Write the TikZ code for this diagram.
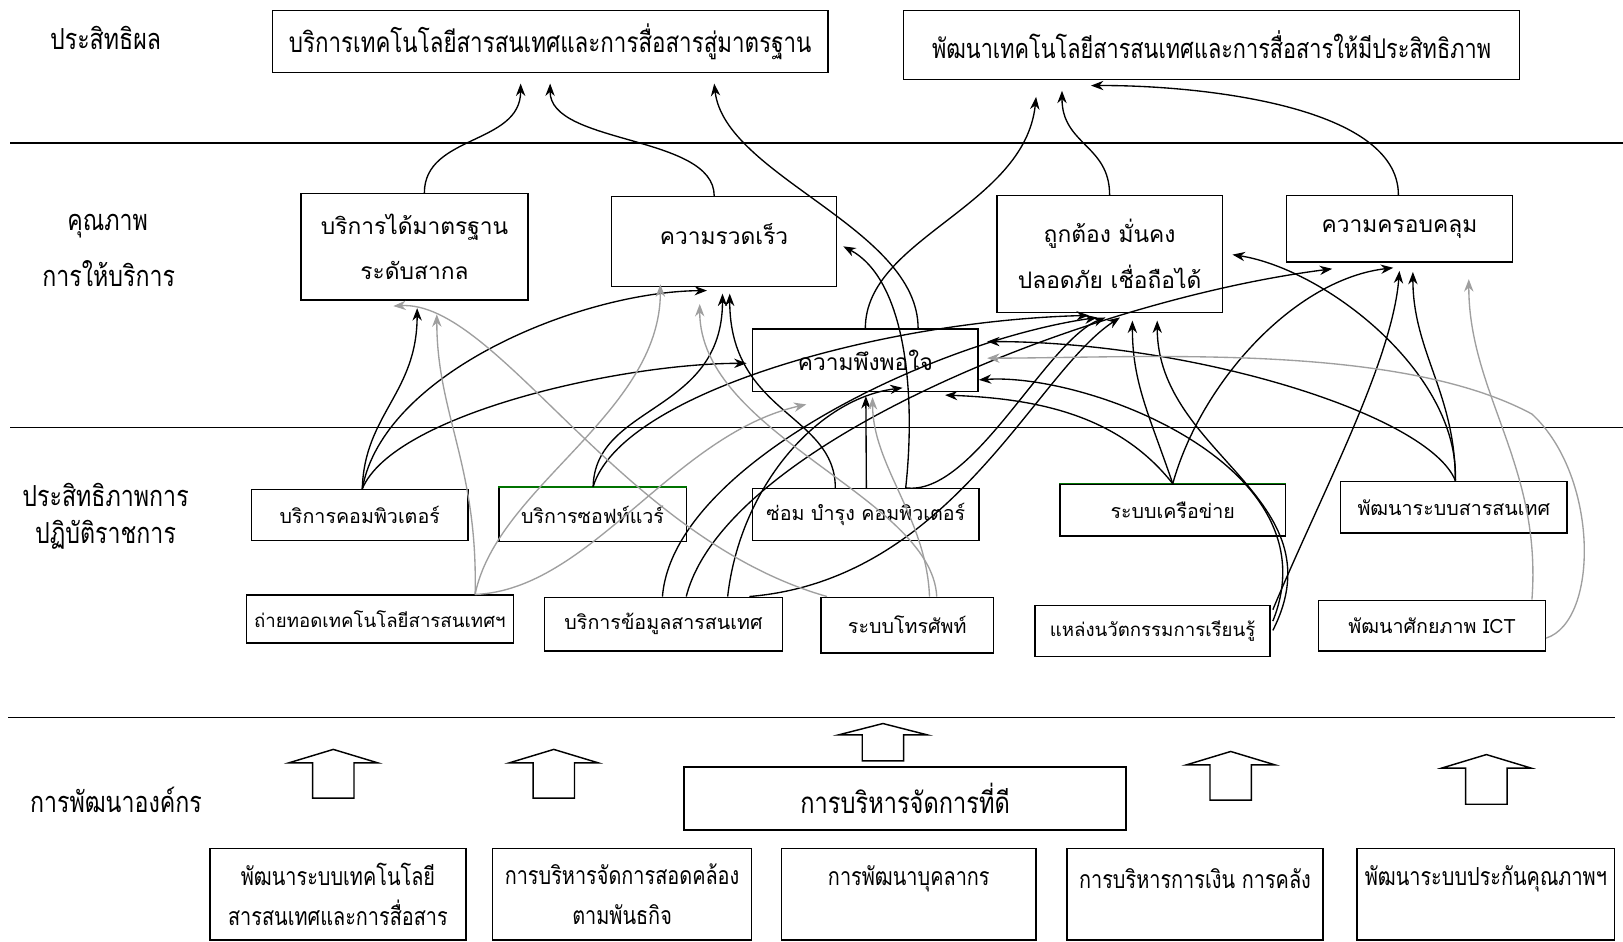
\documentclass[tikz,border=0pt]{standalone}
\usepackage{fontspec}
\newfontfamily\thfont[Script=Thai]{Loma}
\newfontfamily\thcond[Script=Thai,FakeStretch=0.8]{Loma}
\usetikzlibrary{arrows.meta,calc}
\begin{document}
\begin{tikzpicture}[x=1pt,y=-1pt,
  box/.style={draw, line width=1.4pt, inner sep=0pt, align=center},
  lab/.style={inner sep=0pt, align=center, font=\thcond\fontsize{28}{44}\selectfont},
  qtxt/.style={font=\thfont\fontsize{22}{44}\selectfont},
  etxt/.style={font=\thfont\fontsize{19}{24}\selectfont},
  e6txt/.style={font=\thfont\fontsize{18}{24}\selectfont},
  ctxt/.style={font=\thcond\fontsize{28.5}{40}\selectfont},
  ttxt/.style={font=\thcond\fontsize{27}{40}\selectfont},
  t2txt/.style={font=\thcond\fontsize{26.2}{40}\selectfont},
  dtxt/.style={font=\thcond\fontsize{24}{39}\selectfont},
  conn/.style={line width=1.3pt, -{Stealth[length=12pt,width=9pt]}},
  gconn/.style={conn, draw=gray!75, -{Stealth[length=12pt,width=9pt,fill=gray!75]}},
  sep/.style={line width=1.4pt},
  blk/.style={draw, line width=1.4pt, fill=white, line join=miter}
]
\useasboundingbox (0,0) rectangle (1568,910);
\fill[white] (0,0) rectangle (1568,910);

% separators
\draw[sep] (10,138) -- (1568,138);
\draw[sep] (10,413) -- (1568,413);
\draw[sep] (8,693) -- (1560,693);

% left labels
\node[lab] (l1) at (102,37) {ประสิทธิผล};
\node[lab] (l2) at (104,218) {คุณภาพ};
\node[lab] (l3) at (105,264) {การให้บริการ};
\node[lab] (l4) at (102,478) {ประสิทธิภาพการ};
\node[lab] (l5) at (102,517) {ปฏิบัติราชการ};
\node[lab] (l6) at (112,773) {การพัฒนาองค์กร};

% top boxes
\node[box, ttxt, minimum width=537pt, minimum height=60pt] (B1) at (531.5,40) {บริการเทคโนโลยีสารสนเทศและการสื่อสารสู่มาตรฐาน};
\node[box, t2txt, minimum width=595pt, minimum height=67pt] (B2) at (1170.5,43.5) {พัฒนาเทคโนโลยีสารสนเทศและการสื่อสารให้มีประสิทธิภาพ};

% quality boxes
\node[box, qtxt, minimum width=219pt, minimum height=103pt] (Q1) at (400.5,238.5) {บริการได้มาตรฐาน\\ระดับสากล};
\node[box, minimum width=217pt, minimum height=87pt] (Q2) at (699.5,233.5) {};
\node[qtxt] (Q2t) at (699.5,226) {ความรวดเร็ว};
\node[box, qtxt, minimum width=218pt, minimum height=113pt] (Q3) at (1072,245.5) {ถูกต้อง มั่นคง\\ปลอดภัย เชื่อถือได้};
\node[box, qtxt, minimum width=218pt, minimum height=64pt] (Q4) at (1352,221) {ความครอบคลุม};
\node[box, qtxt, minimum width=218pt, minimum height=60pt] (Q5) at (836,348) {ความพึงพอใจ};

% efficiency boxes
\node[box, etxt, minimum width=209pt, minimum height=49pt] (E1) at (347.5,497.5) {บริการคอมพิวเตอร์};
\node[box, etxt, minimum width=181pt, minimum height=52pt] (E2) at (572.5,497) {บริการซอฟท์แวร์};
\node[box, etxt, minimum width=219pt, minimum height=50pt] (E3) at (836.5,497) {ซ่อม บำรุง คอมพิวเตอร์};
\node[box, etxt, minimum width=218pt, minimum height=50pt] (E4) at (1133,493) {ระบบเครือข่าย};
\node[box, etxt, minimum width=219pt, minimum height=50pt] (E5) at (1404.5,490) {พัฒนาระบบสารสนเทศ};
\node[box, e6txt, minimum width=258pt, minimum height=46pt] (E6) at (367,598) {ถ่ายทอดเทคโนโลยีสารสนเทศฯ};
\node[box, etxt, minimum width=230pt, minimum height=52pt] (E7) at (641,603) {บริการข้อมูลสารสนเทศ};
\node[box, etxt, minimum width=167pt, minimum height=54pt] (E8) at (876.5,604) {ระบบโทรศัพท์};
\node[box, e6txt, minimum width=227pt, minimum height=49pt] (E9) at (1113.5,609.5) {แหล่งนวัตกรรมการเรียนรู้};
\node[box, etxt, minimum width=219pt, minimum height=49pt] (E10) at (1383.5,604.5) {พัฒนาศักยภาพ ICT};
\draw[line width=1.4pt, green!45!black] (E2.north west) -- (E2.north east);
\draw[line width=1.4pt, green!45!black] (E4.north west) -- (E4.north east);

% organisation development
\node[box, ctxt, minimum width=427pt, minimum height=61pt] (G) at (874.5,771.5) {การบริหารจัดการที่ดี};
\node[box, dtxt, minimum width=247pt, minimum height=88pt] (D1) at (326.5,864) {พัฒนาระบบเทคโนโลยี\\สารสนเทศและการสื่อสาร};
\node[box, dtxt, minimum width=250pt, minimum height=88pt] (D2) at (601,864) {การบริหารจัดการสอดคล้อง\\ตามพันธกิจ};
\node[box, minimum width=246pt, minimum height=88pt] (D3) at (878,864) {};
\node[box, minimum width=247pt, minimum height=88pt] (D4) at (1154.5,864) {};
\node[box, minimum width=249pt, minimum height=88pt] (D5) at (1435.5,864) {};
\node[dtxt] (D3t) at (878,849) {การพัฒนาบุคลากร};
\node[dtxt] (D4t) at (1154.5,849) {การบริหารการเงิน การคลัง};
\node[dtxt] (D5t) at (1435.5,849) {พัฒนาระบบประกันคุณภาพฯ};

% block arrows
\foreach \cx/\ty/\hy/\by in {322/724/737/771, 535/724/737/771, 853/699/710/735, 1189/726/739/773, 1436/729/742/777}{
  \draw[blk] (\cx-20,\by) -- (\cx-20,\hy) -- (\cx-43,\hy) -- (\cx,\ty) -- (\cx+43,\hy) -- (\cx+20,\hy) -- (\cx+20,\by) -- cycle;
}

% outcome connectors
\draw[conn] ($(Q1.north)+(9.5,0)$) .. controls (410,130) and (503,140) .. ($(B1.south)+(-28.5,10)$);
\draw[conn] ($(Q2.north)+(-9.5,0)$) .. controls (690,130) and (531,140) .. ($(B1.south)+(0,10)$);
\draw[conn] ($(Q5.north)+(51,0)$) .. controls (887,220) and (700,170) .. ($(B1.south)+(158.5,10)$);
\draw[conn] (Q5.north) .. controls (836,230) and (990,200) .. ($(B2.south)+(-169.5,16)$);
\draw[conn] (Q3.north) .. controls (1072,140) and (1026,140) .. ($(B2.south)+(-144.5,10)$);
\draw[conn] ($(Q4.north)+(-1,0)$) .. controls (1351,100) and (1150,82) .. ($(B2.south)+(-116.5,5)$);

% E1
\draw[conn] ($(E1.north)+(2.5,0)$) .. controls (352,400) and (403,380) .. ($(Q1.south)+(2.5,7)$);
\draw[conn] ($(E1.north)+(2.5,0)$) .. controls (370,360) and (560,282) .. ($(Q2.south)+(-16.5,3)$);
\draw[conn] ($(E1.north)+(2.5,0)$) .. controls (380,400) and (600,351) .. ($(Q5.west)+(-5,3)$);
% E2
\draw[conn] ($(E2.north)+(0.5,0)$) .. controls (575,390) and (698,400) .. ($(Q2.south)+(-1.5,6)$);
\draw[conn] ($(E2.north)+(0.5,0)$) .. controls (600,380) and (850,310) .. ($(Q3.south)+(-20,2)$);
% E3
\draw[conn] ($(E3.north)+(-29.5,0)$) .. controls (807,400) and (705,400) .. ($(Q2.south)+(5.5,6)$);
\draw[conn] ($(E3.north)+(0.5,0)$) -- ($(Q5.south)+(0.5,4)$);
\draw[conn] ($(E3.north)+(38.5,0)$) .. controls (885,380) and (875,270) .. ($(Q2.east)+(6,4.5)$);
\draw[conn] ($(E3.north)+(38.5,0)$) .. controls (940,480) and (1010,330) .. ($(Q3.south)+(-4,4)$);
% E4
\draw[conn] (E4.north) .. controls (1110,400) and (1094,370) .. ($(Q3.south)+(22,7)$);
\draw[conn] (E4.north) .. controls (1160,370) and (1250,270) .. ($(Q4.south)+(-6,5)$);
\draw[conn] (E4.north) .. controls (1080,400) and (1000,385) .. ($(Q5.south)+(77,3)$);
% E5
\draw[conn] ($(E5.north)+(1.5,0)$) .. controls (1380,400) and (1150,330) .. ($(Q5.east)+(8,-18)$);
\draw[conn] ($(E5.north)+(1.5,0)$) .. controls (1410,360) and (1280,260) .. ($(Q3.east)+(9,0.5)$);
\draw[conn] ($(E5.north)+(1.5,0)$) .. controls (1406,380) and (1365,340) .. ($(Q4.south)+(13,9)$);
% E6 (gray)
\draw[gconn] ($(E6.north)+(92,0)$) .. controls (462,450) and (422,400) .. ($(Q1.south)+(21.5,13)$);
\draw[gconn] ($(E6.north)+(92,0)$) .. controls (480,470) and (638,400) .. ($(Q2.south)+(-61.5,-3)$);
\draw[gconn] ($(E6.north)+(92,0)$) .. controls (570,570) and (650,420) .. ($(Q5.south)+(-57,12)$);
% E7
\draw[conn] ($(E7.north)+(-1,0)$) .. controls (650,450) and (900,330) .. ($(Q3.south)+(-12,4)$);
\draw[conn] ($(E7.north)+(22,0)$) .. controls (700,430) and (1050,290) .. ($(Q4.south)+(-65,6)$);
\draw[conn] ($(E7.north)+(62,0)$) .. controls (715,470) and (790,385) .. ($(Q5.south)+(36,-4)$);
\draw[conn] ($(E7.north)+(83,0)$) .. controls (920,560) and (1000,360) .. ($(Q3.south)+(10,4)$);
% E8 (gray)
\draw[gconn] ($(E8.north)+(-77.5,0)$) .. controls (600,520) and (480,290) .. ($(Q1.south)+(-20.5,5)$);
\draw[gconn] ($(E8.north)+(28.5,0)$) .. controls (900,480) and (676,420) .. ($(Q2.south)+(-23.5,16)$);
\draw[gconn] ($(E8.north)+(21.5,0)$) .. controls (895,500) and (843,450) .. ($(Q5.south)+(7,5)$);
% E9
\draw[conn] ($(E9.east)+(2,-20.5)$) .. controls (1275,480) and (1345,350) .. ($(Q4.south)+(0,8)$);
\draw[conn] ($(E9.east)+(2,-9.5)$) .. controls (1290,450) and (1050,360) .. ($(Q5.east)+(0,19)$);
\draw[conn] ($(E9.east)+(2,-0.5)$) .. controls (1295,480) and (1118,440) .. ($(Q3.south)+(46,7)$);
% E10 (gray)
\draw[gconn] ($(E10.north)+(96.5,0)$) .. controls (1490,450) and (1419,380) .. ($(Q4.south)+(67,16)$);
\draw[gconn] ($(E10.east)+(0,12)$) .. controls (1545,600) and (1545,460) .. (1480,400) .. controls (1350,330) and (1100,346) .. ($(Q5.east)+(8,-2)$);
\end{tikzpicture}
\end{document}
